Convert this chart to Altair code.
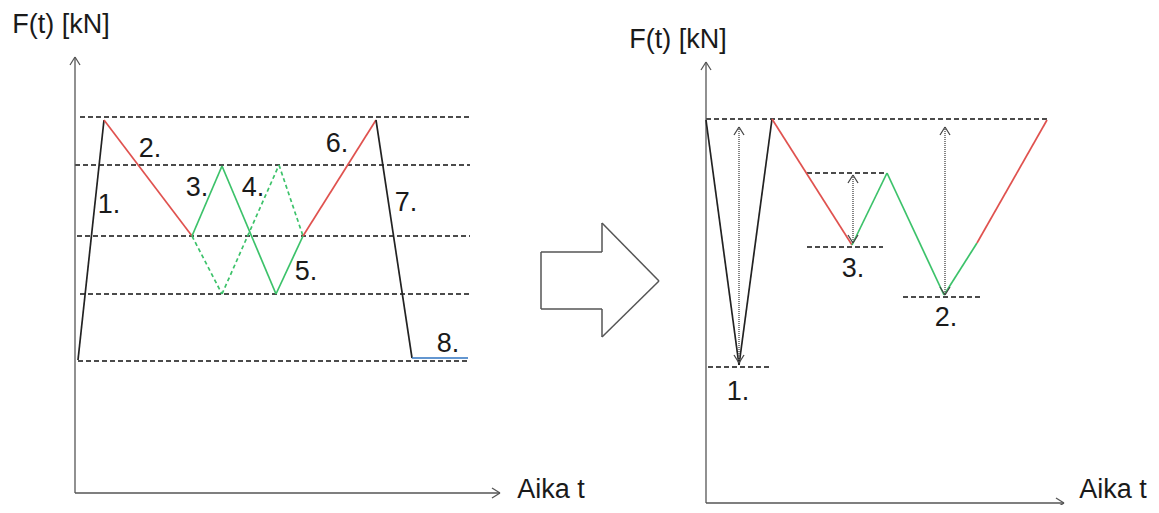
import altair as alt
import pandas as pd

# Chart canvas (picture-space units: t grows right, F grows downward in the picture)
W, H = 1143, 497
X0, Y0 = 8, 8

# ---------------- Left panel: load history ----------------
left_path_t = [78, 104, 192, 222, 276, 303, 376, 412, 468]
left_path_F = [360, 120, 236, 166, 294, 236, 120, 358, 358]
left_path_col = ["k", "r", "g", "g", "g", "r", "k", "b"]
left_alt_t = [192, 222, 279, 303]          # dashed alternative path
left_alt_F = [236, 294, 165, 236]
left_level_F = [117, 165, 236, 294, 361]   # dashed reference levels
left_level_t0 = [80, 75, 77, 80, 78]
left_level_t1 = [472, 470, 470, 470, 470]
left_labels = ["1.", "2.", "3.", "4.", "5.", "6.", "7.", "8."]
left_label_t = [109, 150, 197, 253, 306, 337, 406, 448]
left_label_F = [205, 149, 188, 188, 272, 144, 203, 344]
left_axis = dict(ox=75, oy=493, ytop=57, xright=500)

# ---------------- Right panel: rainflow counted cycles ----------------
right_path_t = [706, 739, 772, 852, 887, 944, 977, 1047]
right_path_F = [120, 365, 119, 245, 173, 295, 243, 120]
right_path_col = ["k", "k", "r", "g", "g", "g", "r"]
right_level_F = [119, 173, 247, 297, 367]
right_level_t0 = [706, 807, 807, 903, 708]
right_level_t1 = [1047, 887, 883, 980, 769]
range_t = [739, 853, 945]                  # dotted range arrows
range_top = [127, 175, 127]
range_bot = [363, 243, 295]
right_labels = ["1.", "3.", "2."]
right_label_t = [738, 853, 946]
right_label_F = [392, 269, 318]
right_axis = dict(ox=706, oy=503, ytop=62, xright=1064)

# axis titles
axis_titles = ["F(t) [kN]", "Aika t", "F(t) [kN]", "Aika t"]
axis_title_t = [61, 551, 678, 1113]
axis_title_F = [25, 490, 40, 490]

# block arrow outline between panels
block_t = [541, 602, 602, 659, 602, 602, 541, 541]
block_F = [252, 252, 223, 281, 337, 309, 309, 252]

colors = {"k": "#222222", "r": "#e0524f", "g": "#3cc26a", "b": "#2f73c0"}


def segs(ts, Fs, keys=None):
    rows = []
    for i in range(len(ts) - 1):
        rows.append(dict(x=ts[i], y=Fs[i], x2=ts[i + 1], y2=Fs[i + 1],
                         c=(keys[i] if keys else "k")))
    return rows


def chevron(x, y, d, L=8, h=5):
    if d == "up":
        pts = [(x - h, y + L), (x + h, y + L)]
    elif d == "down":
        pts = [(x - h, y - L), (x + h, y - L)]
    else:  # right
        pts = [(x - L, y - h), (x - L, y + h)]
    return [dict(x=px, y=py, x2=x, y2=y) for px, py in pts]


path_df = pd.DataFrame(segs(left_path_t, left_path_F, left_path_col)
                       + segs(right_path_t, right_path_F, right_path_col))
alt_df = pd.DataFrame(segs(left_alt_t, left_alt_F))
level_df = pd.DataFrame(
    [dict(x=a, x2=b, y=f, y2=f) for a, b, f in zip(left_level_t0, left_level_t1, left_level_F)]
    + [dict(x=a, x2=b, y=f, y2=f) for a, b, f in zip(right_level_t0, right_level_t1, right_level_F)])
axes_rows = []
heads = []
for ax in (left_axis, right_axis):
    axes_rows.append(dict(x=ax["ox"], y=ax["oy"], x2=ax["ox"], y2=ax["ytop"]))
    axes_rows.append(dict(x=ax["ox"], y=ax["oy"], x2=ax["xright"], y2=ax["oy"]))
    heads += chevron(ax["ox"], ax["ytop"], "up")
    heads += chevron(ax["xright"], ax["oy"], "right")
axes_df = pd.DataFrame(axes_rows)
block_df = pd.DataFrame(segs(block_t, block_F))
range_df = pd.DataFrame([dict(x=t, x2=t, y=a, y2=b) for t, a, b in zip(range_t, range_top, range_bot)])
range_heads = []
for t, a, b in zip(range_t, range_top, range_bot):
    range_heads += chevron(t, a, "up", 8, 5)
    range_heads += chevron(t, b, "down", 8, 5)
heads_df = pd.DataFrame(heads)
rheads_df = pd.DataFrame(range_heads)
text_df = pd.DataFrame(dict(
    x=left_label_t + right_label_t + axis_title_t,
    y=left_label_F + right_label_F + axis_title_F,
    text=left_labels + right_labels + axis_titles))

xs = alt.Scale(domain=[X0, X0 + W], nice=False, zero=False)
ys = alt.Scale(domain=[Y0, Y0 + H], nice=False, zero=False, reverse=True)
X = alt.X("x:Q", scale=xs, axis=None)
Y = alt.Y("y:Q", scale=ys, axis=None)


def rule_layer(df, **mark):
    return alt.Chart(df).mark_rule(**mark).encode(X, Y, x2="x2:Q", y2="y2:Q")


levels = rule_layer(level_df, color="#111111", strokeWidth=1.3, strokeDash=[5, 3])
axes = rule_layer(axes_df, color="#555555", strokeWidth=1.3)
axheads = rule_layer(heads_df, color="#555555", strokeWidth=1.3)
block = rule_layer(block_df, color="#555555", strokeWidth=1.5)
paths = alt.Chart(path_df).mark_rule(strokeWidth=1.7).encode(
    X, Y, x2="x2:Q", y2="y2:Q",
    color=alt.Color("c:N", scale=alt.Scale(domain=list(colors), range=list(colors.values())), legend=None))
alt_path = rule_layer(alt_df, color=colors["g"], strokeWidth=1.7, strokeDash=[4, 3])
ranges = rule_layer(range_df, color="#666666", strokeWidth=1.6, strokeDash=[1, 1])
rheads = rule_layer(rheads_df, color="#444444", strokeWidth=1.3)
texts = alt.Chart(text_df).mark_text(
    font="Liberation Sans", fontSize=27, color="#1a1a1a", align="center", baseline="middle"
).encode(X, Y, text="text:N")

chart = alt.layer(levels, axes, axheads, block, alt_path, paths, ranges, rheads, texts).properties(
    width=W, height=H, padding=0, autosize=alt.AutoSizeParams(type="none")
).configure_view(stroke=None)

chart.save("out.html", embed_options={"renderer": "svg", "actions": False})
